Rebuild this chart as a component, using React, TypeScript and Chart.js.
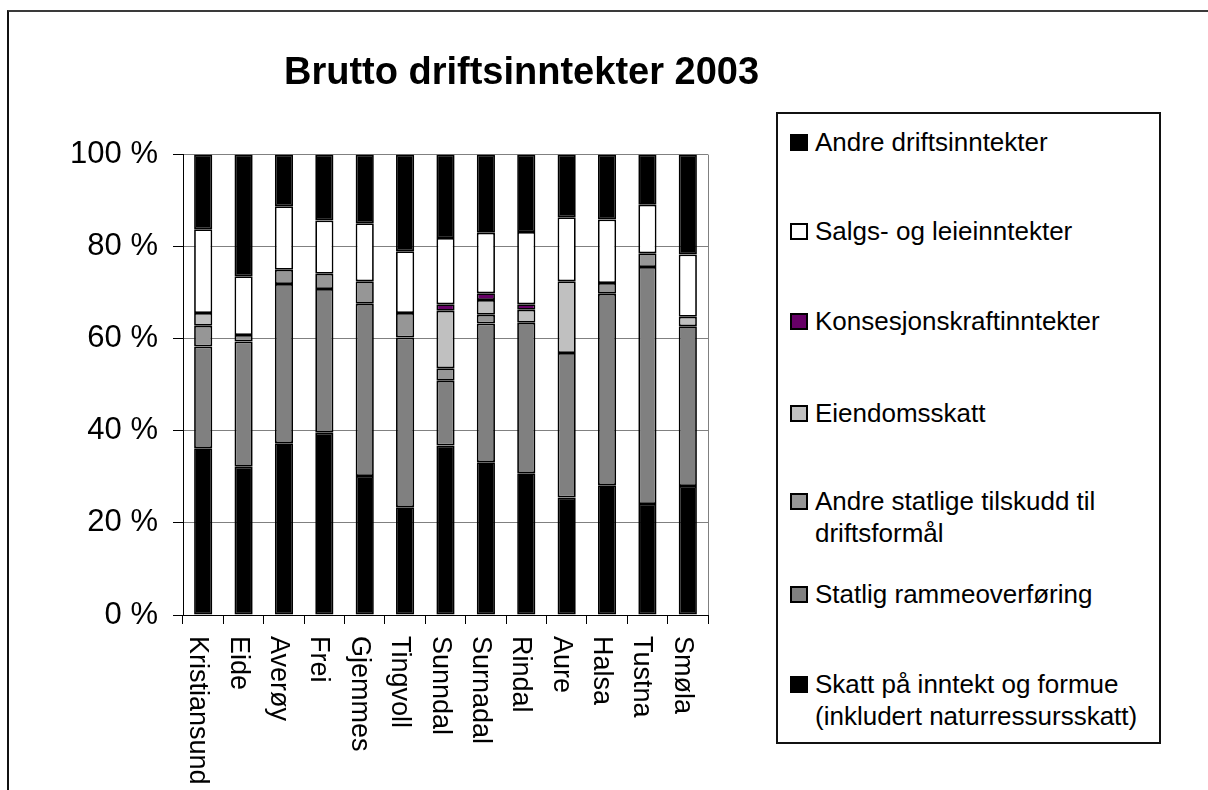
import React, { useEffect, useRef } from "react";
import { Chart, registerables } from "chart.js";

Chart.register(...registerables);

const FONT = "'Liberation Sans', Arial, Helvetica, sans-serif";

const TITLE = "Brutto driftsinntekter 2003";

const categories = [
  "Kristiansund", "Eide", "Averøy", "Frei", "Gjemmes", "Tingvoll", "Sunndal",
  "Surnadal", "Rindal", "Aure", "Halsa", "Tustna", "Smøla",
];

// Values in percent of total, bottom of stack first
const skatt = [36.2, 32.2, 37.3, 39.6, 30.2, 23.4, 36.8, 33.2, 30.8, 25.5, 28.2, 24.1, 28.0];
const rammeoverforing = [22.1, 27.2, 34.6, 31.2, 37.4, 36.9, 14.1, 30.1, 32.7, 31.4, 41.6, 51.5, 34.7];
const andreStatlige = [4.5, 1.4, 3.1, 3.3, 4.9, 5.3, 2.7, 1.9, 0, 0, 2.3, 3.0, 0];
const eiendomsskatt = [2.8, 0, 0, 0, 0, 0, 12.5, 3.2, 2.8, 15.6, 0, 0, 2.1];
const konsesjonskraft = [0, 0, 0, 0, 0, 0, 1.4, 1.5, 1.2, 0, 0, 0, 0];
const salgsOgLeie = [18.2, 12.8, 13.8, 11.6, 12.6, 13.4, 14.4, 13.1, 15.7, 13.9, 13.8, 10.5, 13.5];
const andreDrift = [16.2, 26.4, 11.2, 14.3, 14.9, 21.0, 18.1, 17.0, 16.8, 13.6, 14.1, 10.9, 21.7];

const seriesNames = [
  "Skatt på inntekt og formue\n(inkludert naturressursskatt)",
  "Statlig rammeoverføring",
  "Andre statlige tilskudd til\ndriftsformål",
  "Eiendomsskatt",
  "Konsesjonskraftinntekter",
  "Salgs- og leieinntekter",
  "Andre driftsinntekter",
];
const seriesValues = [skatt, rammeoverforing, andreStatlige, eiendomsskatt, konsesjonskraft, salgsOgLeie, andreDrift];
const seriesColors = ["#000000", "#808080", "#969696", "#C0C0C0", "#660066", "#FFFFFF", "#000000"];

const yTicks = [0, 20, 40, 60, 80, 100];

// legend item top positions (top of stack first in legend)
const legendTops = [126, 215, 305, 397, 485, 578, 668];

export default function App() {
  const canvasRef = useRef<HTMLCanvasElement | null>(null);

  useEffect(() => {
    if (!canvasRef.current) return;
    const extras = {
      id: "extras",
      beforeDatasetsDraw(chart: any) {
        const { ctx, chartArea } = chart;
        ctx.save();
        ctx.strokeStyle = "#808080";
        ctx.lineWidth = 1;
        ctx.beginPath();
        ctx.moveTo(Math.round(chartArea.right) + 0.5, chartArea.top);
        ctx.lineTo(Math.round(chartArea.right) + 0.5, chartArea.bottom);
        ctx.stroke();
        ctx.restore();
      },
      afterDraw(chart: any) {
        const { ctx, chartArea } = chart;
        const xs = chart.scales.x;
        ctx.save();
        ctx.fillStyle = "#000";
        ctx.font = `27px ${FONT}`;
        ctx.textAlign = "left";
        ctx.textBaseline = "alphabetic";
        categories.forEach((c, i) => {
          const x = xs.getPixelForValue(i);
          ctx.save();
          ctx.translate(x - 13, chartArea.bottom + 21);
          ctx.rotate(Math.PI / 2);
          ctx.fillText(c, 0, 0);
          ctx.restore();
        });
        ctx.restore();
      },
    };

    const chart = new Chart(canvasRef.current, {
      type: "bar",
      data: {
        labels: categories,
        datasets: seriesValues.map((vals, i) => ({
          label: seriesNames[i],
          data: vals,
          backgroundColor: seriesColors[i],
          borderColor: "#000",
          borderWidth: 1.75,
          borderSkipped: false,
          barPercentage: 0.45,
          categoryPercentage: 1.0,
          yAxisID: "y",
        })),
      },
      options: {
        animation: false,
        responsive: false,
        events: [],
        layout: { padding: 0 },
        plugins: {
          legend: { display: false },
          tooltip: { enabled: false },
          title: {
            display: true,
            text: TITLE,
            color: "#000",
            font: { family: FONT, size: 38, weight: "bold" },
            padding: { top: 51, bottom: 58 },
          },
        },
        scales: {
          x: {
            stacked: true,
            ticks: { display: false },
            grid: {
              display: true,
              drawOnChartArea: false,
              drawTicks: true,
              tickLength: 9,
              color: "#000",
              offset: true,
            },
            border: { color: "#000", width: 1 },
            afterFit: (s: any) => {
              s.height = 175;
            },
          },
          y: {
            stacked: true,
            min: 0,
            max: 100,
            afterBuildTicks: (s: any) => {
              s.ticks = yTicks.map((v) => ({ value: v }));
            },
            ticks: {
              callback: (v: any) => `${v} %`,
              font: { family: FONT, size: 31 },
              color: "#000",
              padding: 15,
            },
            grid: { color: "#808080", tickColor: "#000", tickLength: 10, lineWidth: 1 },
            border: { color: "#000", width: 1 },
            afterFit: (s: any) => {
              s.width = 183;
            },
          },
          y2: {
            position: "right",
            display: true,
            min: 0,
            max: 100,
            grid: { display: false, drawTicks: false },
            ticks: { display: false },
            border: { display: false },
            afterFit: (s: any) => {
              s.width = 335;
            },
          },
        },
      } as any,
      plugins: [extras],
    });
    return () => chart.destroy();
  }, []);

  const legendItems = seriesNames
    .map((name, i) => ({ name, color: seriesColors[i] }))
    .reverse();

  return (
    <div
      style={{
        position: "fixed",
        left: 0,
        top: 0,
        width: 1208,
        height: 790,
        overflow: "hidden",
        background: "#fff",
        fontFamily: FONT,
      }}
    >
      <div
        style={{
          position: "absolute",
          left: 7,
          top: 10,
          width: 1400,
          height: 1000,
          borderTop: "2px solid #3a3a3a",
          borderLeft: "2px solid #111",
        }}
      />
      <canvas
        ref={canvasRef}
        width={1043}
        height={790}
        style={{ position: "absolute", left: 0, top: 0, width: 1043, height: 790 }}
      />
      <div
        style={{
          position: "absolute",
          left: 776,
          top: 112,
          width: 385,
          height: 632,
          boxSizing: "border-box",
          border: "2px solid #111",
          background: "#fff",
        }}
      />
      {legendItems.map((it, i) => (
        <div
          key={i}
          style={{
            position: "absolute",
            left: 790,
            top: legendTops[i],
            fontSize: 26,
            lineHeight: "32px",
            color: "#000",
            whiteSpace: "pre-line",
          }}
        >
          <div
            style={{
              position: "absolute",
              left: 0,
              top: 8,
              width: 18,
              height: 17,
              boxSizing: "border-box",
              border: "2px solid #000",
              background: it.color,
            }}
          />
          <div style={{ marginLeft: 25 }}>{it.name}</div>
        </div>
      ))}
    </div>
  );
}
